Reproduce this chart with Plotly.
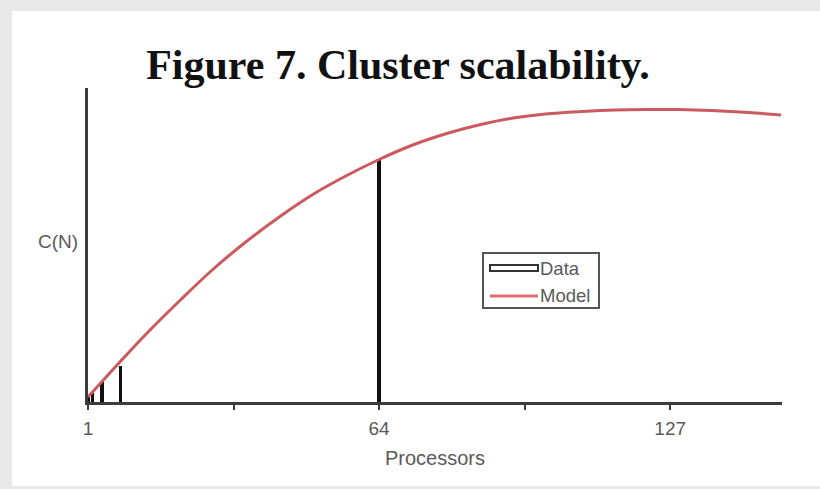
import plotly.graph_objects as go

# ---- data ----
data_n = [1, 2, 4, 8, 64]
data_c = [1.0, 1.9, 4.0, 7.2, 48.6]

model_n = [1, 8, 14, 21, 28, 35, 43, 50, 57, 64, 71, 79, 86, 93, 100,
           108, 115, 122, 129, 136, 144, 151]
model_c = [1.0, 8.1, 14.0, 20.4, 26.5, 31.9, 37.4, 41.7, 45.3, 48.5, 51.3,
           53.8, 55.5, 56.8, 57.6, 58.1, 58.4, 58.5, 58.5, 58.3, 57.9, 57.4]

x_tickvals = [1, 32.5, 64, 95.5, 127]
x_ticktext = ["1", "", "64", "", "127"]

title_text = "Figure 7. Cluster scalability."
x_title = "Processors"
y_title = "C(N)"
legend_labels = ["Data", "Model"]

# ---- layout geometry (pixels) ----
W, H = 820, 489
L, R, T, B = 88, 782, 88, 402
PW, PH = R - L, B - T


def px(x):
    return (x - L) / PW


def py(y):
    return (B - y) / PH


RED = "#cb5a5e"
GRAY_TXT = "#5a5a5a"
AXIS = "#3c3c3c"
SANS = "Liberation Sans"
FRAME = "#e9e9e9"

fig = go.Figure()
fig.add_trace(go.Bar(x=data_n, y=data_c, width=0.75, marker=dict(color="#111111", line=dict(width=0)),
                     name=legend_labels[0], showlegend=False))
fig.add_trace(go.Scatter(x=model_n, y=model_c, mode="lines", name=legend_labels[1],
                         line=dict(color=RED, width=3, shape="spline", smoothing=1.0),
                         showlegend=False))

shapes = []
# outer gray frame bands (top, left, bottom)
for (x0, x1, y0, y1) in [(0, 830, 0, 11), (0, 12, 0, 489), (0, 830, 486, 489)]:
    shapes.append(dict(type="rect", xref="paper", yref="paper", layer="below",
                       x0=px(x0), x1=px(x1), y0=py(y1), y1=py(y0),
                       fillcolor=FRAME, line=dict(width=0)))
# legend box
shapes.append(dict(type="rect", xref="paper", yref="paper",
                   x0=px(483), x1=px(599), y0=py(308), y1=py(253),
                   fillcolor="white", line=dict(color="#555555", width=2)))
shapes.append(dict(type="rect", xref="paper", yref="paper",
                   x0=px(490), x1=px(538), y0=py(271), y1=py(265),
                   fillcolor="white", line=dict(color="#333333", width=2)))
shapes.append(dict(type="line", xref="paper", yref="paper",
                   x0=px(490), x1=px(538), y0=py(296), y1=py(296),
                   line=dict(color="#e07070", width=3)))

annotations = [
    dict(text=legend_labels[0], xref="paper", yref="paper", x=px(538), y=py(268),
         xanchor="left", yanchor="middle", showarrow=False,
         font=dict(family=SANS, size=18.5, color=GRAY_TXT)),
    dict(text=legend_labels[1], xref="paper", yref="paper", x=px(538), y=py(295),
         xanchor="left", yanchor="middle", showarrow=False,
         font=dict(family=SANS, size=18.5, color=GRAY_TXT)),
    dict(text=y_title, xref="paper", yref="paper", x=px(58), y=py(241),
         xanchor="center", yanchor="middle", showarrow=False,
         font=dict(family=SANS, size=19, color=GRAY_TXT)),
]

fig.update_layout(
    width=W, height=H,
    margin=dict(l=L, r=W - R, t=T, b=H - B, pad=0),
    paper_bgcolor="white", plot_bgcolor="white",
    title=dict(text="<b>" + title_text + "</b>", x=398 / W, xanchor="center",
               y=1 - 64 / H, yanchor="middle", yref="container",
               font=dict(family="Liberation Serif", size=42, color="#111111")),
    xaxis=dict(range=[1, 151.2], tickmode="array", tickvals=x_tickvals, ticktext=x_ticktext,
               showgrid=False, zeroline=False, showline=True, linecolor=AXIS, linewidth=3,
               ticks="outside", ticklen=5, tickwidth=2, tickcolor=AXIS,
               tickfont=dict(family=SANS, size=19, color=GRAY_TXT),
               ticklabelstandoff=2,
               title=dict(text=x_title, standoff=14,
                          font=dict(family=SANS, size=20, color=GRAY_TXT))),
    yaxis=dict(range=[0, PH / 5], showgrid=False, zeroline=False, showline=True,
               linecolor=AXIS, linewidth=3, showticklabels=False, ticks=""),
    shapes=shapes, annotations=annotations,
    bargap=0, showlegend=False,
)

fig.write_html("out.html")
